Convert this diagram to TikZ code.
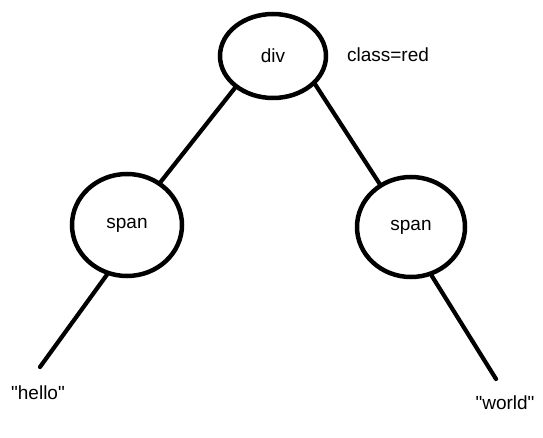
\documentclass[tikz,border=0pt]{standalone}
\usepackage{fontspec}
\setmainfont{Liberation Sans}[Ligatures=TeXOff]
\usetikzlibrary{shapes.geometric}
\begin{document}
\begin{tikzpicture}[x=1pt,y=-1pt,
  treenode/.style={ellipse,draw,line width=4.5pt,inner sep=0pt},
  conn/.style={line width=4.2pt,line cap=round},
  lbl/.style={font=\fontsize{19}{22}\selectfont,inner sep=0pt}]
\useasboundingbox[fill=white] (0,0) rectangle (543,438);
\node[treenode,minimum width=106pt,minimum height=84pt,lbl] (div) at (273,56) {div};
\node[treenode,minimum width=110pt,minimum height=102pt,lbl] (sl) at (127,225) {span};
\node[treenode,minimum width=108pt,minimum height=100pt,lbl] (sr) at (411,227) {span};
\node[lbl] (cls) at (388,55) {class=red};
\coordinate (h) at (40,367);
\coordinate (w) at (496,379);
\node[lbl] (hello) at (38,393) {"hello"};
\node[lbl] (world) at (505,403) {"world"};
\draw[conn] (div.220) -- (sl.52);
\draw[conn] (div.326) -- (sr.126);
\draw[conn] (sl.248) -- (h);
\draw[conn] (sr.293) -- (w);
\end{tikzpicture}
\end{document}
